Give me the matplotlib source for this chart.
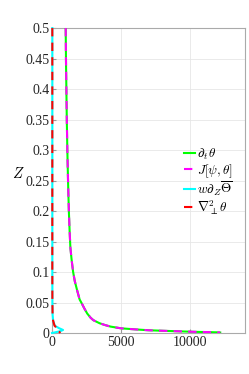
import numpy as np
import matplotlib
matplotlib.use("Agg")
import matplotlib.pyplot as plt

plt.rcParams['font.family'] = ['Liberation Serif', 'DejaVu Serif']
plt.rcParams['mathtext.fontset'] = 'cm'

z = [0.5, 0.45, 0.4, 0.35, 0.3, 0.25, 0.2, 0.17, 0.14, 0.12, 0.1, 0.085, 0.07,
     0.055, 0.048, 0.04, 0.032, 0.025, 0.021, 0.016, 0.013, 0.0105, 0.0077,
     0.006, 0.0045, 0.0033, 0.002, 0.0011, 0.0008]
dt_theta = [990, 1010, 1040, 1070, 1110, 1160, 1220, 1270, 1330, 1420, 1530,
            1650, 1820, 2000, 2170, 2350, 2550, 2800, 3000, 3450, 3850, 4250,
            5000, 6000, 7000, 8500, 10300, 12000, 12200]
jac = dt_theta

z2 = [0.5, 0.3, 0.1, 0.05, 0.03, 0.02, 0.012, 0.008, 0.005, 0.003, 0.0015, 0.0]
w_dz = [20, 20, 20, 25, 40, 80, 200, 500, 800, 600, 300, 0]
lap = [20, 20, 20, 25, 40, 80, 180, 350, 450, 400, 550, 600]

labels = [r'$\partial_t\theta$', r'$J[\psi,\theta]$',
          r'$w\partial_Z\overline{\Theta}$', r'$\nabla_\perp^2\theta$']

fig = plt.figure(figsize=(2.49, 3.74), dpi=100)
ax = fig.add_axes([0.209, 0.1096, 0.775, 0.8154])

ax.plot(dt_theta, z, color='#00ff00', lw=1.5, label=labels[0], zorder=3)
ax.plot(jac, z, color='#ff00ff', lw=1.5, ls=(0, (4, 3)), label=labels[1],
        zorder=3)
ax.plot(w_dz, z2, color='#00ffff', lw=1.5, label=labels[2], clip_on=False,
        zorder=3)
ax.plot(lap, z2, color='#ff0000', lw=1.5, ls=(0, (4, 3)), label=labels[3],
        clip_on=False, zorder=3)

ax.set_xlim(0, 14000)
ax.set_ylim(0, 0.5)
ax.set_xticks([0, 5000, 10000])
ax.set_xticklabels(['0', '5000', '10000'])
yt = np.arange(0, 0.51, 0.05)
ax.set_yticks(yt)
ax.set_yticklabels(['0', '0.05', '0.1', '0.15', '0.2', '0.25', '0.3', '0.35',
                    '0.4', '0.45', '0.5'])
ax.tick_params(direction='in', length=3, labelsize=10, color='#999999',
               labelcolor='#262626', pad=2)
ax.grid(True, color='#e6e6e6', lw=0.6)
ax.set_axisbelow(True)
for s in ax.spines.values():
    s.set_color('#aaaaaa')
    s.set_linewidth(0.8)

ax.set_ylabel(r'$Z$', rotation=0, fontsize=10.5, labelpad=2)
ax.yaxis.set_label_coords(-0.176, 0.5)

leg = ax.legend(loc='upper left', bbox_to_anchor=(0.684, 0.61), frameon=False,
                fontsize=9.5, handlelength=0.85, handletextpad=0.15,
                labelspacing=0.0, borderaxespad=0, borderpad=0)

fig.savefig('out.png', dpi=100)
